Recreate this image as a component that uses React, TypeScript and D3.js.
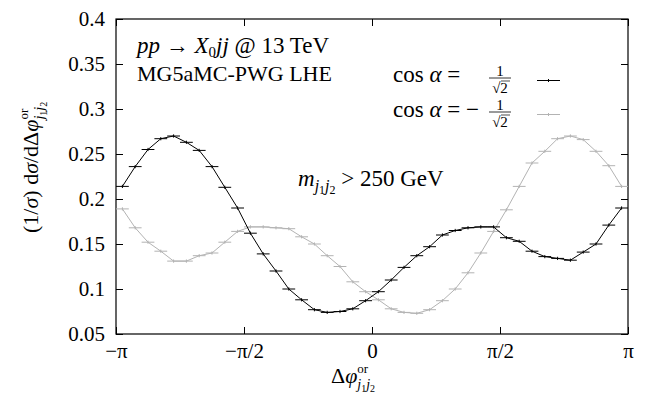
import React, { useEffect, useRef } from 'react';
import * as d3 from 'd3';

// normalised distributions, 40 bins in [-pi, pi]
const cosPlus = [
  0.214, 0.236, 0.255, 0.267, 0.270, 0.263, 0.254, 0.236, 0.213, 0.190,
  0.162, 0.139, 0.120, 0.100, 0.088, 0.077, 0.074, 0.075, 0.078, 0.087,
  0.097, 0.110, 0.124, 0.137, 0.147, 0.160, 0.165, 0.168, 0.169, 0.169,
  0.157, 0.153, 0.142, 0.136, 0.134, 0.132, 0.141, 0.150, 0.171, 0.190,
];
const cosMinus = [
  0.189, 0.168, 0.152, 0.142, 0.131, 0.131, 0.137, 0.140, 0.152, 0.164,
  0.169, 0.169, 0.168, 0.167, 0.158, 0.150, 0.137, 0.125, 0.108, 0.097,
  0.088, 0.078, 0.074, 0.073, 0.077, 0.087, 0.100, 0.118, 0.140, 0.164,
  0.188, 0.214, 0.240, 0.253, 0.267, 0.270, 0.266, 0.253, 0.237, 0.214,
];
const yErr = 0.0018;
const xTicks = [-Math.PI, -Math.PI / 2, 0, Math.PI / 2, Math.PI];
const xTickLabels = ['−π', '−π/2', '0', 'π/2', 'π'];
const yTicks = [0.05, 0.1, 0.15, 0.2, 0.25, 0.3, 0.35, 0.4];

const FONT = "'Times New Roman', Tinos, 'Liberation Serif', 'DejaVu Serif', 'Noto Serif', Times, serif";

// text with sub/superscripts built out of tspans
function mathText(parent, x, y, pieces, size = 20, anchor = 'start') {
  const t = parent.append('text')
    .attr('x', x).attr('y', y)
    .style('font-family', FONT)
    .style('font-size', `${size}px`)
    .attr('text-anchor', anchor)
    .style('white-space', 'pre');
  let shift = 0;
  let prevLen = 0;
  pieces.forEach(p => {
    const s = p.shift ?? 0;
    const ts = t.append('tspan').text(p.t).style('font-size', `${p.size ?? size}px`);
    if (p.italic) ts.style('font-style', 'italic');
    if (s !== shift) ts.attr('dy', s - shift);
    if (p.back) ts.attr('dx', -prevLen);
    shift = s;
    prevLen = ts.node().getComputedTextLength();
  });
  return t;
}

// phi with "or" on top and j1j2 below
const phiOr = [
  { t: 'φ', italic: true },
  { t: 'or', size: 13, shift: -10 },
  { t: 'j', italic: true, size: 14, shift: 6, back: true }, { t: '1', size: 10, shift: 9 },
  { t: 'j', italic: true, size: 14, shift: 6 }, { t: '2', size: 10, shift: 9 },
];

function App() {
  const svgRef = useRef();

  useEffect(() => {
    const svg = d3.select(svgRef.current);
    svg.selectAll('*').remove();

    const left = 116, right = 628, top = 19, bottom = 334;
    const x = d3.scaleLinear().domain([-Math.PI, Math.PI]).range([left, right]);
    const y = d3.scaleLinear().domain([0.05, 0.4]).range([bottom, top]);
    const nb = cosPlus.length;
    const bw = (2 * Math.PI) / nb;
    const centers = d3.range(nb).map(i => -Math.PI + (i + 0.5) * bw);

    // axes, ticks inward on all sides
    const axL = svg.append('g').attr('transform', `translate(${left},0)`)
      .call(d3.axisLeft(y).tickValues(yTicks).tickSize(-7).tickPadding(11).tickFormat(d3.format('')));
    const axR = svg.append('g').attr('transform', `translate(${right},0)`)
      .call(d3.axisRight(y).tickValues(yTicks).tickSize(-7).tickFormat(() => ''));
    const axB = svg.append('g').attr('transform', `translate(0,${bottom})`)
      .call(d3.axisBottom(x).tickValues(xTicks).tickSize(-7).tickPadding(9).tickFormat((d, i) => xTickLabels[i]));
    const axT = svg.append('g').attr('transform', `translate(0,${top})`)
      .call(d3.axisTop(x).tickValues(xTicks).tickSize(-7).tickFormat(() => ''));
    [axL, axR, axB, axT].forEach(a => {
      a.attr('font-family', null).attr('font-size', null);
      a.select('.domain').remove();
      a.selectAll('text')
        .style('font-family', FONT).style('font-size', '21px').attr('fill', '#000');
      a.selectAll('line').attr('stroke', '#000');
    });

    svg.append('rect')
      .attr('x', left).attr('y', top)
      .attr('width', right - left).attr('height', bottom - top)
      .attr('fill', 'none').attr('stroke', '#000').attr('stroke-width', 1.2);

    const series = [
      { values: cosMinus, color: '#b3b3b3' },
      { values: cosPlus, color: '#000' },
    ];
    const line = d3.line().x(d => x(d[0])).y(d => y(d[1]));

    series.forEach(s => {
      const pts = centers.map((c, i) => [c, s.values[i]]);
      const g = svg.append('g');
      g.append('path')
        .datum(pts)
        .attr('d', line)
        .attr('fill', 'none')
        .attr('stroke', s.color)
        .attr('stroke-width', 1);
      g.selectAll('.xb').data(pts).join('line')
        .attr('x1', d => x(d[0] - bw / 2)).attr('x2', d => x(d[0] + bw / 2))
        .attr('y1', d => y(d[1])).attr('y2', d => y(d[1]))
        .attr('stroke', s.color).attr('stroke-width', 1);
      g.selectAll('.yb').data(pts).join('line')
        .attr('x1', d => x(d[0])).attr('x2', d => x(d[0]))
        .attr('y1', d => y(d[1] - yErr)).attr('y2', d => y(d[1] + yErr))
        .attr('stroke', s.color).attr('stroke-width', 1);
    });

    // annotations
    mathText(svg, 137, 53, [
      { t: 'pp', italic: true }, { t: ' → ' }, { t: 'X', italic: true },
      { t: '0', size: 15, shift: 4 }, { t: 'jj', italic: true }, { t: ' @ 13 TeV' },
    ], 23);
    mathText(svg, 137, 81, [{ t: 'MG5aMC-PWG LHE' }], 22);
    mathText(svg, 298, 186, [
      { t: 'm', italic: true },
      { t: 'j', italic: true, size: 16, shift: 5 }, { t: '1', size: 12, shift: 8 },
      { t: 'j', italic: true, size: 16, shift: 5 }, { t: '2', size: 12, shift: 8 },
      { t: ' > 250 GeV' },
    ], 23);

    // legend
    const legend = [
      { minus: false, color: '#000', base: 82, bar: 78 },
      { minus: true, color: '#b3b3b3', base: 117, bar: 112 },
    ];
    legend.forEach(l => {
      mathText(svg, 393, l.base, [{ t: 'cos ' }, { t: 'α', italic: true }, { t: l.minus ? ' = −' : ' =' }], 23);
      mathText(svg, 500, l.bar - 2.5, [{ t: '1' }], 15, 'middle');
      svg.append('line').attr('x1', 489).attr('x2', 511)
        .attr('y1', l.bar).attr('y2', l.bar).attr('stroke', '#000').attr('stroke-width', 0.8);
      mathText(svg, 500, l.bar + 14.5, [{ t: '√2' }], 15, 'middle');
      svg.append('line').attr('x1', 501).attr('x2', 510)
        .attr('y1', l.bar + 3).attr('y2', l.bar + 3).attr('stroke', '#000').attr('stroke-width', 0.7);
      const ly = l.bar + 2.5;
      svg.append('line').attr('x1', 537).attr('x2', 560).attr('y1', ly).attr('y2', ly)
        .attr('stroke', l.color).attr('stroke-width', 1);
      svg.append('line').attr('x1', 548.5).attr('x2', 548.5).attr('y1', ly - 1.5).attr('y2', ly + 1.5)
        .attr('stroke', l.color).attr('stroke-width', 1);
    });

    // axis titles
    mathText(svg, 331, 383, [{ t: 'Δ' }, ...phiOr], 22);
    const yl = svg.append('g').attr('transform', 'translate(38,0) rotate(-90)');
    mathText(yl, -233, 0, [
      { t: '(1/' }, { t: 'σ', italic: true }, { t: ') d' }, { t: 'σ', italic: true },
      { t: '/dΔ' }, ...phiOr,
    ], 22);
  }, []);

  return (
    <svg
      ref={svgRef}
      width={646}
      height={397}
      style={{ position: 'absolute', left: 0, top: 0, background: '#fff' }}
    />
  );
}

export default App;
